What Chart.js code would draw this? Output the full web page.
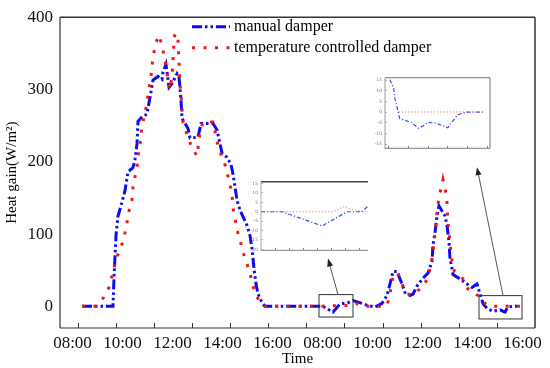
<!DOCTYPE html>
<html><head><meta charset="utf-8">
<script src="https://cdn.jsdelivr.net/npm/chart.js@4.4.0/dist/chart.umd.min.js"></script>
<style>
html,body{margin:0;padding:0;background:#fff;}
#wrap{position:relative;width:550px;height:368px;overflow:hidden;}
#main{position:absolute;left:0;top:0;}
#inset1{position:absolute;left:245px;top:174px;}
#inset2{position:absolute;left:365px;top:70px;}
</style></head><body>
<div id="wrap">
<canvas id="main" width="550" height="368"></canvas>
<canvas id="inset1" width="128" height="84"></canvas>
<canvas id="inset2" width="130" height="86"></canvas>
</div>
<script>
// ---- Data (axis hours: day 1 08:00-16:00 = 8..16, day 2 08:00-16:00 = 18..26) ----
const manualTime = [8.38,9.62,9.66,9.74,9.82,9.94,10.10,10.22,10.42,10.50,10.58,10.62,10.78,10.98,11.14,11.22,11.42,11.58,11.62,11.74,11.86,11.98,12.18,12.26,12.34,12.38,12.62,12.70,13.02,13.14,13.62,13.78,13.98,14.18,14.34,14.42,14.58,14.70,14.98,15.10,15.18,15.26,15.34,15.42,15.58,15.70,
  18.02,18.42,18.70,19.02,19.22,19.58,19.82,20.10,20.38,20.58,20.70,20.82,20.98,21.18,21.30,21.50,21.62,21.78,22.02,22.22,22.38,22.42,22.50,22.58,22.66,22.78,22.90,22.98,23.06,23.10,23.18,23.22,23.50,23.78,23.98,24.18,24.30,24.42,24.58,24.82,25.10,25.30,25.42,25.62,25.90];
const manualHeat = [0,0,40,98,125,139,160,186,192,203,225,256,262,266,297,313,318,314,324,335,303,308,322,318,285,260,246,233,234,253,253,244,212,206,196,183,147,133,112,98,80,52,31,17,5,0,
  0,-8,3,5,8,4,1,-1,4,15,31,48,48,31,19,15,17,28,39,46,62,85,102,125,139,132,125,112,89,66,52,44,38,31,26,31,17,4,-3,-7,-5,-8,-1,0,0];
const tempTime = [8.38,8.90,9.22,9.46,9.58,9.70,9.82,9.98,10.10,10.18,10.26,10.38,10.42,10.50,10.58,10.62,10.70,10.78,10.90,11.02,11.14,11.22,11.34,11.46,11.58,11.70,11.82,11.90,11.98,12.02,12.06,12.10,12.22,12.26,12.30,12.38,12.42,12.62,12.78,12.98,13.10,13.22,13.62,13.78,13.98,14.10,14.22,14.38,14.42,14.58,14.70,14.82,14.98,15.10,15.18,15.30,15.50,15.70,
  17.82,18.78,19.22,19.42,19.70,20.30,20.58,20.70,20.78,20.90,21.02,21.22,21.38,21.62,21.82,21.98,22.22,22.38,22.50,22.58,22.66,22.78,22.82,22.94,22.98,23.02,23.10,23.18,23.22,23.62,23.82,24.10,24.22,24.38,24.50,24.70,25.90];
const tempHeat = [0,0,11,26,42,58,72,86,102,116,132,147,165,179,193,207,223,250,266,292,318,345,365,375,361,340,315,300,318,340,365,378,369,338,307,275,255,234,219,208,241,255,255,228,206,196,180,156,136,106,92,75,59,46,32,19,5,0,
  0,1,1,4,0,0,1,17,35,46,46,28,17,16,22,26,39,66,100,129,152,167,175,156,143,116,89,62,51,38,24,17,15,11,4,0,0];

const yTicks = [0,100,200,300,400];
const xLabelValues = [8,10,12,14,16,18,20,22,24,26];
const xTickLabels = ['08:00','10:00','12:00','14:00','16:00','08:00','10:00','12:00','14:00','16:00'];
const xTickMarks = [8.23,9.76,11.28,12.80,14.33,15.85,17.37,18.89,20.42,21.94,23.46,24.99];

// zoomed insets (inset1 = day-2 morning box, inset2 = day-2 afternoon box)
const inset1ManualX = [0,1.5,4.36,6.14,7.21,7.64];
const inset1ManualY = [0,0,-7.5,0,0,3];
const inset1TempX = [0,5.14,6.0,6.36,7.29,7.64];
const inset1TempY = [0,0,3,1.5,0,0];
const inset1YTicks = [15,10,5,0,-5,-10,-15,-20];
const inset1XTicks = [1,2,3,4,5,6,7];
const inset2ManualX = [0.05,0.25,0.3,0.45,0.55,0.8,1.15,1.5,1.75,2.0,2.4,2.75,3.0,3.25,3.5,3.8,4.0,4.9];
const inset2ManualY = [15.2,10.9,6.5,0.9,-3,-3.9,-4.8,-7.6,-6.5,-4.8,-5.2,-6.5,-7.4,-4.3,-1.3,-0.4,0,0];
const inset2TempX = [0.5,4.9];
const inset2TempY = [0,0];
const inset2YTicks = [15,10,5,0,-5,-10,-15];
const inset2XTicks = [0,1,2,3,4,5];

// zoom boxes and arrows (axis units)
const zoomBoxes = [{x0:17.86,x1:19.22,y0:-14.8,y1:16.2},{x0:24.26,x1:25.98,y0:-17.5,y1:14.8}];
const zoomArrows = [{x0:18.62,y0:16.2,x1:18.22,y1:66},{x0:25.22,y0:14.8,x1:24.18,y1:192.5}];

const FAM = '"Liberation Serif", "Times New Roman", serif';
const pts = (xs, ys) => xs.map((x, i) => ({x: x, y: ys[i]}));

const BLUE = '#0b0bf5', RED = '#f51414';
const BLUE_DASH = [10,3,2.5,3,2.5,3], RED_DASH = [3,8.5];

const framePlugin = {
  id: 'frame',
  afterDraw(chart, args, o) {
    const {ctx, chartArea: a} = chart;
    ctx.save();
    ctx.setLineDash([]);
    const sides = o.sides || {};
    const draw = (k, x0, y0, x1, y1) => {
      const s = sides[k]; if (!s) return;
      ctx.strokeStyle = s.color; ctx.lineWidth = s.width;
      ctx.beginPath(); ctx.moveTo(x0, y0); ctx.lineTo(x1, y1); ctx.stroke();
    };
    draw('top', a.left, a.top, a.right, a.top);
    draw('right', a.right, a.top, a.right, a.bottom);
    draw('bottom', a.left, a.bottom, a.right, a.bottom);
    draw('left', a.left, a.top, a.left, a.bottom);
    ctx.restore();
  }
};

const zoomPlugin = {
  id: 'zoomMarks',
  afterDatasetsDraw(chart) {
    const {ctx} = chart; const xs = chart.scales.x, ys = chart.scales.y;
    ctx.save(); ctx.setLineDash([]);
    ctx.strokeStyle = '#333'; ctx.fillStyle = '#222'; ctx.lineWidth = 1;
    zoomBoxes.forEach(b => {
      const x0 = xs.getPixelForValue(b.x0), x1 = xs.getPixelForValue(b.x1);
      const y0 = ys.getPixelForValue(b.y1), y1 = ys.getPixelForValue(b.y0);
      ctx.strokeRect(x0, y0, x1 - x0, y1 - y0);
    });
    zoomArrows.forEach(r => {
      const x0 = xs.getPixelForValue(r.x0), y0 = ys.getPixelForValue(r.y0);
      const x1 = xs.getPixelForValue(r.x1), y1 = ys.getPixelForValue(r.y1);
      const ang = Math.atan2(y1 - y0, x1 - x0), L = 8, W = 3;
      ctx.strokeStyle = '#555';
      ctx.beginPath(); ctx.moveTo(x0, y0);
      ctx.lineTo(x1 - Math.cos(ang) * L * 0.8, y1 - Math.sin(ang) * L * 0.8); ctx.stroke();
      ctx.beginPath();
      ctx.moveTo(x1, y1);
      ctx.lineTo(x1 - Math.cos(ang) * L - Math.sin(ang) * W, y1 - Math.sin(ang) * L + Math.cos(ang) * W);
      ctx.lineTo(x1 - Math.cos(ang) * L + Math.sin(ang) * W, y1 - Math.sin(ang) * L - Math.cos(ang) * W);
      ctx.closePath(); ctx.fill();
    });
    ctx.restore();
  }
};

const legendPlugin = {
  id: 'insideLegend',
  afterDraw(chart, args, o) {
    const {ctx, chartArea: a} = chart;
    ctx.save();
    ctx.font = '16px ' + FAM; ctx.textBaseline = 'middle'; ctx.fillStyle = '#000';
    chart.data.datasets.forEach((ds, i) => {
      const y = a.top + o.rows[i];
      ctx.strokeStyle = ds.borderColor; ctx.lineWidth = ds.borderWidth;
      ctx.setLineDash(ds.borderDash || []); ctx.lineCap = 'butt';
      ctx.beginPath(); ctx.moveTo(a.left + o.x0, y); ctx.lineTo(a.left + o.x1, y); ctx.stroke();
      ctx.fillText(ds.label, a.left + o.tx, y + 0.5);
    });
    ctx.restore();
  }
};

new Chart(document.getElementById('main'), {
  type: 'line',
  data: {datasets: [
    {label: 'manual damper', data: pts(manualTime, manualHeat), borderColor: BLUE, borderWidth: 3,
     borderDash: BLUE_DASH, pointRadius: 0, fill: false, tension: 0, order: 1},
    {label: 'temperature controlled damper', data: pts(tempTime, tempHeat), borderColor: RED, borderWidth: 3,
     borderDash: RED_DASH, pointRadius: 0, fill: false, tension: 0, order: 0}
  ]},
  options: {
    responsive: false, animation: false, devicePixelRatio: 1,
    layout: {padding: {top: 9, right: 15, left: 0, bottom: 0}},
    plugins: {
      legend: {display: false}, tooltip: {enabled: false},
      frame: {sides: {top: {color: '#333', width: 1.5}, right: {color: '#333', width: 1.5},
                      bottom: {color: '#333', width: 1.2}, left: {color: '#333', width: 1.2}}},
      insideLegend: {x0: 132, x1: 170, tx: 174, rows: [9.5, 30.5]}
    },
    scales: {
      x: {type: 'linear', position: 'bottom', min: 7.5, max: 26.5, weight: 0,
          afterBuildTicks(s) { s.ticks = xTickMarks.map(v => ({value: v})); },
          afterFit(s) { s.height = 0; },
          ticks: {display: false},
          grid: {display: true, drawOnChartArea: false, drawTicks: true, tickLength: -5, color: '#333', lineWidth: 1},
          border: {display: false}},
      xl: {type: 'linear', position: 'bottom', min: 7.5, max: 26.5, weight: 1,
           afterBuildTicks(s) { s.ticks = xLabelValues.map(v => ({value: v})); },
           afterFit(s) { s.height = 40; },
           ticks: {callback: (v, i) => xTickLabels[i], font: {family: FAM, size: 17}, color: '#111',
                   padding: 5, maxRotation: 0, autoSkip: false},
           grid: {display: false, drawTicks: false}, border: {display: false},
           title: {display: true, text: 'Time', font: {family: FAM, size: 15}, color: '#000', padding: {top: 0, bottom: 0}}},
      y: {type: 'linear', min: -30, max: 400,
          afterBuildTicks(s) { s.ticks = yTicks.map(v => ({value: v})); },
          afterFit(s) { s.width = 60; },
          ticks: {font: {family: FAM, size: 17}, color: '#111', padding: 7},
          grid: {display: false, drawTicks: false}, border: {display: false},
          title: {display: true, text: 'Heat gain(W/m²)', font: {family: FAM, size: 15}, color: '#000', padding: {top: 3, bottom: 0}}}
    }
  },
  plugins: [framePlugin, zoomPlugin, legendPlugin]
});

function makeInset(id, o) {
  new Chart(document.getElementById(id), {
    type: 'line',
    data: {datasets: [
      {data: o.manual, borderColor: 'rgba(40,40,240,0.85)', borderWidth: 1.2, borderDash: [4,2,1.2,2],
       pointRadius: 0, tension: 0, order: 1},
      {data: o.temp, borderColor: 'rgba(250,90,90,0.85)', borderWidth: 1.1, borderDash: [1.2,2],
       pointRadius: 0, tension: 0, order: 0}
    ]},
    options: {
      responsive: false, animation: false, devicePixelRatio: 1,
      layout: {padding: o.pad},
      plugins: {legend: {display: false}, tooltip: {enabled: false}, frame: {sides: o.sides}},
      scales: {
        x: {type: 'linear', min: o.xmin, max: o.xmax,
            afterBuildTicks(s) { s.ticks = o.xticks.map(v => ({value: v})); },
            afterFit(s) { s.height = 0; },
            ticks: {display: false},
            grid: {display: true, drawOnChartArea: false, drawTicks: true, tickLength: -2.5, color: '#666', lineWidth: 0.8},
            border: {display: false}},
        y: {type: 'linear', min: o.ymin, max: o.ymax,
            afterBuildTicks(s) { s.ticks = o.yticks.map(v => ({value: v})); },
            afterFit(s) { s.width = o.yw; },
            ticks: {font: {family: '"DejaVu Sans", sans-serif', size: 4.5}, color: '#777', padding: 5},
            grid: {display: true, drawOnChartArea: false, drawTicks: true, tickLength: -2, color: '#888', lineWidth: 0.6},
            border: {display: false}}
      }
    },
    plugins: [framePlugin]
  });
}

makeInset('inset1', {
  manual: pts(inset1ManualX, inset1ManualY), temp: pts(inset1TempX, inset1TempY),
  xmin: 0, xmax: 7.64, ymin: -20.5, ymax: 16, xticks: inset1XTicks, yticks: inset1YTicks, yw: 16,
  pad: {top: 5, right: 5, bottom: 6, left: 0},
  sides: {top: {color: '#444', width: 1.5}, bottom: {color: '#999', width: 1.2}, left: {color: '#aaa', width: 1}}
});
makeInset('inset2', {
  manual: pts(inset2ManualX, inset2ManualY), temp: pts(inset2TempX, inset2TempY),
  xmin: -0.2, xmax: 5.15, ymin: -17, ymax: 16.1, xticks: inset2XTicks, yticks: inset2YTicks, yw: 20,
  pad: {top: 5, right: 5, bottom: 5, left: 0},
  sides: {top: {color: '#777', width: 1}, right: {color: '#777', width: 1}, bottom: {color: '#777', width: 1}, left: {color: '#999', width: 1}}
});
</script>
</body></html>
